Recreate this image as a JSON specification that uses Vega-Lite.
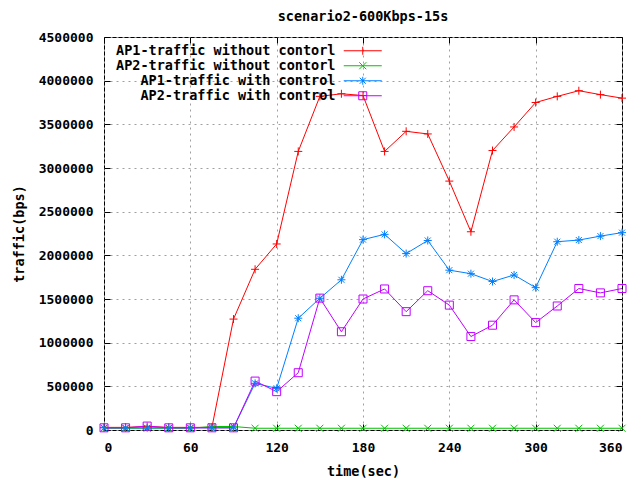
{
  "$schema": "https://vega.github.io/schema/vega-lite/v6.json",
  "width": 518,
  "height": 393,
  "autosize": {"type": "none"},
  "padding": {"left": 104, "top": 37, "right": 13, "bottom": 49},
  "background": "white",
  "title": {"text": "scenario2-600Kbps-15s", "anchor": "middle", "font": "DejaVu Sans Mono", "fontSize": 13.5, "fontWeight": "bold", "color": "black", "offset": 8, "frame": "group"},
  "config": {
    "view": {"stroke": "black", "strokeWidth": 1},
    "axis": {"domain": false, "labelFont": "DejaVu Sans Mono", "labelFontSize": 13, "labelFontWeight": "bold", "labelColor": "black", "titleFont": "DejaVu Sans Mono", "titleFontSize": 13.5, "titleFontWeight": "bold", "titleColor": "black", "tickColor": "black", "tickSize": 6, "gridColor": "#a0a0a0", "gridDash": [2, 4], "gridOpacity": 1}
  },
  "data": {"values": [
    {"t": 0, "series": "AP1-traffic without contorl", "v": 30000},
    {"t": 15, "series": "AP1-traffic without contorl", "v": 30000},
    {"t": 30, "series": "AP1-traffic without contorl", "v": 40000},
    {"t": 45, "series": "AP1-traffic without contorl", "v": 30000},
    {"t": 60, "series": "AP1-traffic without contorl", "v": 30000},
    {"t": 75, "series": "AP1-traffic without contorl", "v": 30000},
    {"t": 90, "series": "AP1-traffic without contorl", "v": 1270000},
    {"t": 105, "series": "AP1-traffic without contorl", "v": 1840000},
    {"t": 120, "series": "AP1-traffic without contorl", "v": 2130000},
    {"t": 135, "series": "AP1-traffic without contorl", "v": 3190000},
    {"t": 150, "series": "AP1-traffic without contorl", "v": 3820000},
    {"t": 165, "series": "AP1-traffic without contorl", "v": 3850000},
    {"t": 180, "series": "AP1-traffic without contorl", "v": 3830000},
    {"t": 195, "series": "AP1-traffic without contorl", "v": 3190000},
    {"t": 210, "series": "AP1-traffic without contorl", "v": 3420000},
    {"t": 225, "series": "AP1-traffic without contorl", "v": 3390000},
    {"t": 240, "series": "AP1-traffic without contorl", "v": 2850000},
    {"t": 255, "series": "AP1-traffic without contorl", "v": 2270000},
    {"t": 270, "series": "AP1-traffic without contorl", "v": 3200000},
    {"t": 285, "series": "AP1-traffic without contorl", "v": 3470000},
    {"t": 300, "series": "AP1-traffic without contorl", "v": 3750000},
    {"t": 315, "series": "AP1-traffic without contorl", "v": 3820000},
    {"t": 330, "series": "AP1-traffic without contorl", "v": 3885000},
    {"t": 345, "series": "AP1-traffic without contorl", "v": 3840000},
    {"t": 360, "series": "AP1-traffic without contorl", "v": 3800000},
    {"t": 0, "series": "AP2-traffic without contorl", "v": 20000},
    {"t": 15, "series": "AP2-traffic without contorl", "v": 20000},
    {"t": 30, "series": "AP2-traffic without contorl", "v": 20000},
    {"t": 45, "series": "AP2-traffic without contorl", "v": 20000},
    {"t": 60, "series": "AP2-traffic without contorl", "v": 20000},
    {"t": 75, "series": "AP2-traffic without contorl", "v": 40000},
    {"t": 90, "series": "AP2-traffic without contorl", "v": 40000},
    {"t": 105, "series": "AP2-traffic without contorl", "v": 20000},
    {"t": 120, "series": "AP2-traffic without contorl", "v": 20000},
    {"t": 135, "series": "AP2-traffic without contorl", "v": 20000},
    {"t": 150, "series": "AP2-traffic without contorl", "v": 20000},
    {"t": 165, "series": "AP2-traffic without contorl", "v": 20000},
    {"t": 180, "series": "AP2-traffic without contorl", "v": 20000},
    {"t": 195, "series": "AP2-traffic without contorl", "v": 20000},
    {"t": 210, "series": "AP2-traffic without contorl", "v": 20000},
    {"t": 225, "series": "AP2-traffic without contorl", "v": 20000},
    {"t": 240, "series": "AP2-traffic without contorl", "v": 20000},
    {"t": 255, "series": "AP2-traffic without contorl", "v": 20000},
    {"t": 270, "series": "AP2-traffic without contorl", "v": 20000},
    {"t": 285, "series": "AP2-traffic without contorl", "v": 20000},
    {"t": 300, "series": "AP2-traffic without contorl", "v": 20000},
    {"t": 315, "series": "AP2-traffic without contorl", "v": 20000},
    {"t": 330, "series": "AP2-traffic without contorl", "v": 20000},
    {"t": 345, "series": "AP2-traffic without contorl", "v": 20000},
    {"t": 360, "series": "AP2-traffic without contorl", "v": 20000},
    {"t": 0, "series": "AP1-traffic with control", "v": 25000},
    {"t": 15, "series": "AP1-traffic with control", "v": 25000},
    {"t": 30, "series": "AP1-traffic with control", "v": 25000},
    {"t": 45, "series": "AP1-traffic with control", "v": 25000},
    {"t": 60, "series": "AP1-traffic with control", "v": 25000},
    {"t": 75, "series": "AP1-traffic with control", "v": 25000},
    {"t": 90, "series": "AP1-traffic with control", "v": 25000},
    {"t": 105, "series": "AP1-traffic with control", "v": 534000},
    {"t": 120, "series": "AP1-traffic with control", "v": 477000},
    {"t": 135, "series": "AP1-traffic with control", "v": 1280000},
    {"t": 150, "series": "AP1-traffic with control", "v": 1508000},
    {"t": 165, "series": "AP1-traffic with control", "v": 1720000},
    {"t": 180, "series": "AP1-traffic with control", "v": 2180000},
    {"t": 195, "series": "AP1-traffic with control", "v": 2240000},
    {"t": 210, "series": "AP1-traffic with control", "v": 2020000},
    {"t": 225, "series": "AP1-traffic with control", "v": 2170000},
    {"t": 240, "series": "AP1-traffic with control", "v": 1830000},
    {"t": 255, "series": "AP1-traffic with control", "v": 1790000},
    {"t": 270, "series": "AP1-traffic with control", "v": 1700000},
    {"t": 285, "series": "AP1-traffic with control", "v": 1775000},
    {"t": 300, "series": "AP1-traffic with control", "v": 1630000},
    {"t": 315, "series": "AP1-traffic with control", "v": 2156000},
    {"t": 330, "series": "AP1-traffic with control", "v": 2175000},
    {"t": 345, "series": "AP1-traffic with control", "v": 2220000},
    {"t": 360, "series": "AP1-traffic with control", "v": 2260000},
    {"t": 0, "series": "AP2-traffic with control", "v": 25000},
    {"t": 15, "series": "AP2-traffic with control", "v": 25000},
    {"t": 30, "series": "AP2-traffic with control", "v": 45000},
    {"t": 45, "series": "AP2-traffic with control", "v": 25000},
    {"t": 60, "series": "AP2-traffic with control", "v": 25000},
    {"t": 75, "series": "AP2-traffic with control", "v": 25000},
    {"t": 90, "series": "AP2-traffic with control", "v": 25000},
    {"t": 105, "series": "AP2-traffic with control", "v": 560000},
    {"t": 120, "series": "AP2-traffic with control", "v": 439000},
    {"t": 135, "series": "AP2-traffic with control", "v": 656000},
    {"t": 150, "series": "AP2-traffic with control", "v": 1510000},
    {"t": 165, "series": "AP2-traffic with control", "v": 1125000},
    {"t": 180, "series": "AP2-traffic with control", "v": 1500000},
    {"t": 195, "series": "AP2-traffic with control", "v": 1615000},
    {"t": 210, "series": "AP2-traffic with control", "v": 1355000},
    {"t": 225, "series": "AP2-traffic with control", "v": 1595000},
    {"t": 240, "series": "AP2-traffic with control", "v": 1430000},
    {"t": 255, "series": "AP2-traffic with control", "v": 1070000},
    {"t": 270, "series": "AP2-traffic with control", "v": 1200000},
    {"t": 285, "series": "AP2-traffic with control", "v": 1490000},
    {"t": 300, "series": "AP2-traffic with control", "v": 1230000},
    {"t": 315, "series": "AP2-traffic with control", "v": 1420000},
    {"t": 330, "series": "AP2-traffic with control", "v": 1620000},
    {"t": 345, "series": "AP2-traffic with control", "v": 1570000},
    {"t": 360, "series": "AP2-traffic with control", "v": 1620000}
  ]},
  "resolve": {"axis": {"x": "independent", "y": "independent"}},
  "layer": [
    {
      "mark": {"type": "line", "strokeWidth": 1},
      "encoding": {
        "x": {"field": "t", "type": "quantitative", "scale": {"domain": [0, 360], "nice": false}, "axis": {"orient": "bottom", "offset": -6, "values": [0, 60, 120, 180, 240, 300, 360], "title": "time(sec)", "labelPadding": 11, "titlePadding": 10, "grid": true}},
        "y": {"field": "v", "type": "quantitative", "scale": {"domain": [0, 4500000], "nice": false, "zero": false}, "axis": {"orient": "left", "offset": -6, "values": [0, 500000, 1000000, 1500000, 2000000, 2500000, 3000000, 3500000, 4000000, 4500000], "format": "d", "title": "traffic(bps)", "labelPadding": 11, "titlePadding": 12, "grid": true}},
        "color": {
          "field": "series",
          "type": "nominal",
          "scale": {"domain": ["AP1-traffic without contorl", "AP2-traffic without contorl", "AP1-traffic with control", "AP2-traffic with control"], "range": ["#ff0000", "#00c000", "#0080ff", "#c000ff"]},
          "legend": {
            "orient": "top-left",
            "offset": 7,
            "padding": 0,
            "title": null,
            "labelFont": "DejaVu Sans Mono",
            "labelFontSize": 13.5,
            "labelFontWeight": "bold",
            "labelColor": "black",
            "labelLimit": 300,
            "labelAlign": "right",
            "labelOffset": -34,
            "symbolOffset": 245,
            "symbolSize": 100,
            "symbolStrokeWidth": 1,
            "symbolFillColor": "transparent",
            "rowPadding": 0,
            "encode": {
              "symbols": {
                "update": {
                  "shape": {"signal": "datum.value === 'AP1-traffic without contorl' ? 'M-3.8,0H3.8M0,-0.8V0.8' : datum.value === 'AP2-traffic without contorl' ? 'M-3.8,0H3.8M-0.7,-0.7L0.7,0.7M-0.7,0.7L0.7,-0.7' : datum.value === 'AP1-traffic with control' ? 'M-3.8,0H3.8M0,-0.8V0.8M-0.6,-0.6L0.6,0.6M-0.6,0.6L0.6,-0.6' : 'M-3.8,0H3.8M-0.8,-0.8H0.8V0.8H-0.8Z'"}
                }
              }
            }
          }
        },
        "order": {"field": "t", "type": "quantitative"}
      }
    },
    {
      "transform": [{"filter": "datum.series == 'AP1-traffic without contorl'"}],
      "mark": {"type": "point", "shape": "M-1,0H1M0,-1V1", "size": 64, "filled": false, "strokeWidth": 1, "opacity": 1},
      "encoding": {
        "x": {"field": "t", "type": "quantitative", "axis": {"orient": "top", "offset": -6, "values": [0, 60, 120, 180, 240, 300, 360], "labels": false, "title": null, "grid": false}},
        "y": {"field": "v", "type": "quantitative", "axis": {"orient": "right", "offset": -6, "values": [0, 500000, 1000000, 1500000, 2000000, 2500000, 3000000, 3500000, 4000000, 4500000], "labels": false, "title": null, "grid": false}},
        "color": {"field": "series", "type": "nominal", "legend": null}
      }
    },
    {
      "transform": [{"filter": "datum.series == 'AP2-traffic without contorl'"}],
      "mark": {"type": "point", "shape": "M-1,-1L1,1M-1,1L1,-1", "size": 49, "filled": false, "strokeWidth": 1, "opacity": 1},
      "encoding": {
        "x": {"field": "t", "type": "quantitative", "axis": null},
        "y": {"field": "v", "type": "quantitative", "axis": null},
        "color": {"field": "series", "type": "nominal", "legend": null}
      }
    },
    {
      "transform": [{"filter": "datum.series == 'AP1-traffic with control'"}],
      "mark": {"type": "point", "shape": "M-1,0H1M0,-1V1M-0.75,-0.75L0.75,0.75M-0.75,0.75L0.75,-0.75", "size": 64, "filled": false, "strokeWidth": 1, "opacity": 1},
      "encoding": {
        "x": {"field": "t", "type": "quantitative", "axis": null},
        "y": {"field": "v", "type": "quantitative", "axis": null},
        "color": {"field": "series", "type": "nominal", "legend": null}
      }
    },
    {
      "transform": [{"filter": "datum.series == 'AP2-traffic with control'"}],
      "mark": {"type": "point", "shape": "M-1,-1H1V1H-1Z", "size": 64, "filled": false, "strokeWidth": 1, "opacity": 1},
      "encoding": {
        "x": {"field": "t", "type": "quantitative", "axis": null},
        "y": {"field": "v", "type": "quantitative", "axis": null},
        "color": {"field": "series", "type": "nominal", "legend": null}
      }
    }
  ]
}
